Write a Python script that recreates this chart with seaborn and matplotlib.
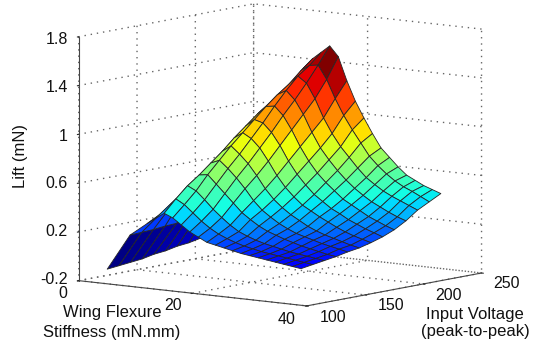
import numpy as np
import matplotlib
matplotlib.use("Agg")
import matplotlib.pyplot as plt
from matplotlib.colors import Normalize
import seaborn as sns

stiffness = [5, 9, 12, 15, 16.5, 18, 19.5, 21, 22.5, 24, 25.5, 27, 28.5, 30, 31.5, 33, 34.5, 36, 37.5, 39]
voltage = [100, 110, 120, 130, 140, 150, 160, 170, 180, 190, 200, 210, 220]
lift_100 = [-.08, .22, .33, .43, .40, .35, .30, .265, .23, .215, .20, .185, .17, .16, .15, .14, .13, .12, .11, .10]
lift_110 = [-.07, .225, .38, .53, .49, .43, .37, .32, .28, .25, .225, .205, .19, .175, .165, .155, .145, .135, .125, .115]
lift_120 = [-.06, .23, .43, .62, .585, .52, .45, .39, .335, .29, .26, .235, .215, .20, .185, .17, .16, .15, .14, .13]
lift_130 = [-.05, .24, .48, .69, .70, .63, .56, .49, .42, .37, .325, .29, .265, .24, .22, .20, .185, .17, .155, .145]
lift_140 = [-.03, .245, .52, .77, .80, .74, .67, .59, .50, .43, .38, .335, .30, .27, .25, .23, .21, .195, .18, .165]
lift_150 = [-.02, .27, .57, .85, .90, .84, .77, .68, .58, .50, .44, .39, .35, .31, .28, .255, .235, .215, .195, .18]
lift_160 = [0, .30, .63, .94, .99, .95, .88, .78, .67, .58, .51, .45, .41, .37, .335, .30, .27, .245, .225, .205]
lift_170 = [.01, .34, .68, 1.02, 1.08, 1.06, .99, .89, .77, .67, .59, .52, .47, .42, .385, .345, .315, .285, .26, .235]
lift_180 = [.03, .38, .73, 1.10, 1.17, 1.18, 1.11, 1.00, .87, .76, .67, .60, .54, .48, .44, .40, .36, .33, .30, .275]
lift_190 = [.05, .43, .79, 1.17, 1.25, 1.29, 1.22, 1.11, .97, .85, .76, .68, .61, .55, .50, .455, .42, .385, .355, .33]
lift_200 = [.07, .48, .85, 1.23, 1.32, 1.39, 1.34, 1.22, 1.07, .95, .85, .77, .69, .62, .57, .525, .49, .46, .43, .40]
lift_210 = [.085, .54, .95, 1.30, 1.41, 1.46, 1.47, 1.36, 1.21, 1.08, .97, .87, .77, .70, .64, .59, .55, .52, .485, .45]
lift_220 = [.10, .60, 1.05, 1.41, 1.49, 1.55, 1.61, 1.53, 1.34, 1.18, 1.05, .93, .82, .75, .68, .62, .585, .55, .525, .50]
x_ticks = [0, 20, 40]
y_ticks = [100, 150, 200, 250]
z_ticks = [-0.2, 0.2, 0.6, 1, 1.4, 1.8]
z_tick_labels = ["-0.2", "0.2", "0.6", "1", "1.4", "1.8"]

sns.set_style("white")
plt.rcParams["font.family"] = ["Liberation Sans", "DejaVu Sans"]

Z = np.array([lift_100, lift_110, lift_120, lift_130, lift_140, lift_150, lift_160,
              lift_170, lift_180, lift_190, lift_200, lift_210, lift_220])
X, Y = np.meshgrid(stiffness, voltage)
# each cell takes the colour of one corner, the one on its higher-voltage side
corner_Z = np.vstack((Z[1:], Z[-1:]))
face_colors = plt.get_cmap("jet")(Normalize(Z.min(), Z.max())(corner_Z))

fig = plt.figure(figsize=(5.42, 3.43), dpi=100)
ax = fig.add_axes([4.5 / 542, 12 / 343, 1, 1], projection="3d", proj_type="ortho")
ax.view_init(elev=8.3, azim=-52.5)
ax.set_box_aspect((1, 1, 0.858), zoom=1.345)
ax.plot_surface(X, Y, Z, facecolors=face_colors, rstride=1, cstride=1,
                edgecolor="#262626", linewidth=0.6, shade=False, antialiased=True)
ax.set_xlim(0, 40)
ax.set_ylim(100, 250)
ax.set_zlim(-0.2, 1.8)
ax.set_xticks(x_ticks)
ax.set_yticks(y_ticks)
ax.set_zticks(z_ticks)
ax.set_xticklabels([""] * len(x_ticks))
ax.set_yticklabels([""] * len(y_ticks))
ax.set_zticklabels([""] * len(z_ticks))
for axis in (ax.xaxis, ax.yaxis, ax.zaxis):
    axis.set_pane_color((1, 1, 1, 0))
    axis.pane.set_edgecolor((1, 1, 1, 0))
    axis._axinfo["grid"].update(color="#666666", linestyle=(0, (1, 3.5)), linewidth=1.0)
    axis._axinfo["tick"].update(inward_factor=0.1, outward_factor=0)
    axis.line.set_color("#444444")
ax.zaxis.set_ticks_position("lower")


def label_at(px, py, text, **kw):
    kw.setdefault("ha", "center")
    kw.setdefault("va", "center")
    kw.setdefault("fontsize", 11.5)
    kw.setdefault("color", "#111111")
    ax.text2D(px / 542, 1 - py / 343, text, transform=fig.transFigure, **kw)


for tick, pos in zip(x_ticks, [(63, 293), (173, 306), (287, 319)]):
    label_at(*pos, str(tick))
for tick, pos in zip(y_ticks, [(333, 318), (391, 306), (449, 295), (507, 284)]):
    label_at(*pos, str(tick))
for text, py in zip(z_tick_labels, [279, 232, 184, 136, 88, 40]):
    label_at(68, py, text, ha="right")

label_at(21, 156, "Lift (mN)", rotation=90, fontsize=12)
label_at(112, 313, "Wing Flexure", fontsize=12)
label_at(112, 332, "Stiffness (mN.mm)", fontsize=12)
label_at(475, 323, "Input Voltage\n(peak-to-peak)", fontsize=12, linespacing=1.2)
fig.savefig("out.png", dpi=100)
